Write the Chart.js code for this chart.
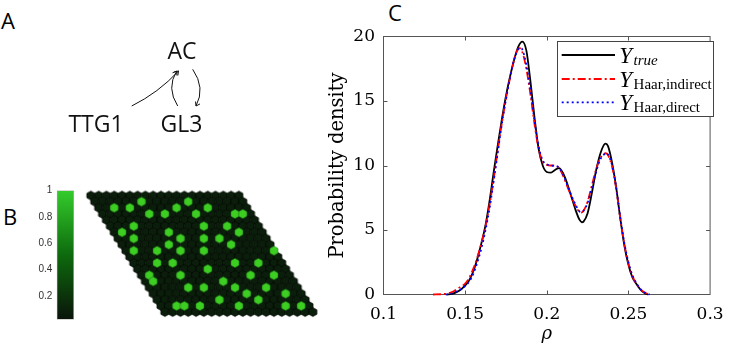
<!DOCTYPE html>
<html><head><meta charset="utf-8">
<script src="https://cdn.jsdelivr.net/npm/chart.js@4.4.1/dist/chart.umd.min.js"></script>
<style>
html,body{margin:0;padding:0;background:#fff;width:733px;height:354px;overflow:hidden;}
.box{position:absolute;}
.plabel{position:absolute;font-family:"Open Sans",sans-serif;font-size:22px;line-height:1;color:#000;}
</style></head><body>
<div class="plabel" style="left:1px;top:9px">A</div>
<div class="plabel" style="left:3px;top:205px">B</div>
<div class="plabel" style="left:388px;top:1px">C</div>
<div class="box" style="left:0;top:0;width:250px;height:170px"><canvas id="cA" width="250" height="170"></canvas></div>
<div class="box" style="left:0;top:180px;width:80px;height:150px"><canvas id="cBar" width="80" height="150"></canvas></div>
<div class="box" style="left:75px;top:180px;width:260px;height:150px"><canvas id="cLat" width="260" height="150"></canvas></div>
<div class="box" style="left:320px;top:0;width:413px;height:354px"><canvas id="cC" width="413" height="354"></canvas></div>
<script>
// ================= DATA =================
// Panel C: probability density of rho
const rhoTrue = [0.1386,0.142,0.145,0.148,0.150,0.1525,0.155,0.1575,0.160,0.1625,0.165,0.1675,0.170,0.1725,0.175,0.1775,0.180,0.1825,0.185,0.1875,0.190,0.1925,0.195,0.1975,0.200,0.2025,0.205,0.2075,0.210,0.2125,0.215,0.2175,0.220,0.2215,0.2225,0.225,0.2275,0.230,0.2325,0.235,0.236,0.2375,0.240,0.2425,0.245,0.2475,0.250,0.2525,0.255,0.2575,0.260,0.262];
const densTrue = [0,0.05,0.2,0.45,0.7,1.1,1.8,2.8,4.0,5.4,7.3,9.5,11.6,13.6,15.4,16.9,18.2,19.2,19.6,18.9,16.5,13.7,11.3,10.0,9.5,9.45,9.65,9.8,9.4,8.6,7.6,6.6,5.8,5.6,5.65,6.3,7.8,9.5,10.8,11.6,11.7,11.5,10.2,8.3,5.9,3.8,2.3,1.3,0.8,0.35,0.1,0];
const rhoIndirect = [0.1303,0.135,0.140,0.143,0.146,0.148,0.150,0.1525,0.155,0.1575,0.160,0.1625,0.165,0.1675,0.170,0.1725,0.175,0.1775,0.180,0.1825,0.1835,0.185,0.1875,0.190,0.1925,0.195,0.1975,0.200,0.2025,0.205,0.2075,0.210,0.2125,0.215,0.2175,0.220,0.221,0.2225,0.225,0.2275,0.230,0.2325,0.235,0.236,0.2375,0.240,0.2425,0.245,0.2475,0.250,0.2525,0.255,0.2575,0.260,0.263];
const densIndirect = [0,0.02,0.1,0.25,0.5,0.65,0.85,1.3,2.0,2.9,4.0,5.3,7.0,9.0,11.2,13.3,15.2,16.8,18.2,19.05,19.1,18.8,17.5,15.5,13.2,11.3,10.3,10.05,10.0,10.0,9.8,9.2,8.4,7.6,6.9,6.4,6.35,6.5,7.2,8.4,9.6,10.5,10.9,10.95,10.8,9.9,8.2,5.9,3.9,2.4,1.4,0.8,0.4,0.15,0];
const rhoDirect = [0.138,0.142,0.145,0.148,0.150,0.1525,0.155,0.1575,0.160,0.1625,0.165,0.1675,0.170,0.1725,0.175,0.1775,0.180,0.1825,0.184,0.185,0.1875,0.190,0.1925,0.195,0.1975,0.200,0.2025,0.205,0.2075,0.210,0.2125,0.215,0.2175,0.220,0.221,0.2225,0.225,0.2275,0.230,0.2325,0.235,0.2365,0.2375,0.240,0.2425,0.245,0.2475,0.250,0.2525,0.255,0.2575,0.260,0.263];
const densDirect = [0,0.08,0.25,0.45,0.65,1.0,1.6,2.5,3.6,5.0,6.7,8.8,11.0,13.2,15.1,16.8,18.2,19.0,19.1,19.0,17.8,15.8,13.4,11.5,10.4,10.1,10.0,9.95,9.85,9.3,8.5,7.7,7.0,6.45,6.4,6.5,7.1,8.2,9.4,10.4,10.85,10.95,10.85,10.0,8.3,6.0,4.0,2.5,1.5,0.85,0.4,0.15,0];
const xTickValues = [0.1,0.15,0.2,0.25,0.3];
const yTickValues = [0,5,10,15,20];
const legendSubscripts = ['true','Haar,indirect','Haar,direct'];
const legendSubItalic = [true,false,false];

// Panel A: regulatory network
const networkNodes = ['AC','TTG1','GL3'];
const networkEdges = [['TTG1','AC'],['GL3','AC'],['AC','GL3']];

// Panel B: hexagonal lattice state (col,row) of active cells, colorbar
const latticeCols = 20, latticeRows = 20;
const greenCells = [[6,1],[12,1],[2,2],[4,2],[10,2],[14,2],[6,3],[8,3],[12,3],[17,3],[18,3],
[3,5],[12,5],[15,5],[1,6],[7,6],[16,6],[2,7],[8,7],[11,7],[13,7],[6,8],[14,8],
[1,9],[4,9],[7,9],[10,9],[19,9],[3,11],[5,11],[13,11],[16,11],[9,12],
[1,13],[5,13],[14,13],[17,13],[1,14],[10,14],[5,15],[7,15],[11,15],[15,15],
[12,16],[17,16],[8,17],[13,17],[2,18],[3,18],[5,18],[10,18],[16,18],[18,18]];
const colorbarTicks = [0.2,0.4,0.6,0.8,1];
const colorbarRange = [0.02,1];

// ================= LAYOUT (not data) =================
const nodeLayout = {AC:[182,51], TTG1:[96,124], GL3:[181.5,124]};
const edgeLayout = [ // start, control, end
  [[131.7,106],[158.6,92.6],[178.5,71]],
  [[177.7,106],[166.2,88],[176.7,71]],
  [[192.7,69.3],[205.6,88],[196,106]]
];

// ================= PANEL A =================
const netPlugin = {
  id:'net',
  afterDraw(chart){
    const {ctx, scales:{x,y}} = chart;
    ctx.save();
    ctx.fillStyle='#111';
    ctx.font='23px "Open Sans", sans-serif';
    ctx.textAlign='center'; ctx.textBaseline='alphabetic';
    networkNodes.forEach(n=>{
      const p=nodeLayout[n];
      ctx.fillText(n, x.getPixelForValue(p[0]), y.getPixelForValue(p[1])+8.3);
    });
    ctx.strokeStyle='#111'; ctx.lineWidth=1;
    networkEdges.forEach((e,i)=>{
      const g=edgeLayout[i];
      const P=g.map(q=>[x.getPixelForValue(q[0]), y.getPixelForValue(q[1])]);
      ctx.beginPath(); ctx.moveTo(P[0][0],P[0][1]);
      ctx.quadraticCurveTo(P[1][0],P[1][1],P[2][0],P[2][1]); ctx.stroke();
      const ang=Math.atan2(P[2][1]-P[1][1],P[2][0]-P[1][0]);
      const L=4.5, s=0.6;
      ctx.beginPath();
      ctx.moveTo(P[2][0]-L*Math.cos(ang-s),P[2][1]-L*Math.sin(ang-s));
      ctx.lineTo(P[2][0],P[2][1]);
      ctx.lineTo(P[2][0]-L*Math.cos(ang+s),P[2][1]-L*Math.sin(ang+s));
      ctx.stroke();
    });
    ctx.restore();
  }
};
new Chart(document.getElementById('cA'),{
  type:'scatter',
  data:{datasets:[{data:networkNodes.map(n=>({x:nodeLayout[n][0],y:nodeLayout[n][1]})),pointRadius:0}]},
  options:{responsive:false,animation:false,events:[],
    layout:{padding:0},
    plugins:{legend:{display:false},tooltip:{enabled:false}},
    scales:{x:{type:'linear',min:0,max:250,display:false},y:{type:'linear',min:0,max:170,reverse:true,display:false}}},
  plugins:[netPlugin]
});

// ================= PANEL B: colorbar =================
const cmapStops = [[0,'#0a140a'],[0.5,'#0d6a0d'],[1,'#34cc2c']];
new Chart(document.getElementById('cBar'),{
  type:'bar',
  data:{labels:[''],datasets:[{data:[colorbarRange],
    backgroundColor:(c)=>{const a=c.chart.chartArea; if(!a) return '#000';
      const g=c.chart.ctx.createLinearGradient(0,a.bottom,0,a.top);
      cmapStops.forEach(s=>g.addColorStop(s[0],s[1])); return g;},
    borderColor:'#b0b0b0',borderWidth:1,borderSkipped:false,barPercentage:1,categoryPercentage:1}]},
  options:{responsive:false,animation:false,events:[],
    layout:{padding:{left:0,right:6,top:8.3,bottom:8.3}},
    plugins:{legend:{display:false},tooltip:{enabled:false}},
    scales:{
      x:{display:false},
      y:{min:colorbarRange[0],max:colorbarRange[1],
        afterFit(s){s.width=56.7;},
        afterBuildTicks(s){s.ticks=colorbarTicks.map(v=>({value:v}));},
        grid:{display:false,drawTicks:false},border:{display:false},
        ticks:{padding:4.4,color:'#333',font:{family:'"Liberation Sans", Arial, sans-serif',size:10},
          callback:(v)=>String(v)}}
    }}
});

// ================= PANEL B: lattice =================
function hexImage(fill,hw,h,stroke,lw){
  const c=document.createElement('canvas'); c.width=14; c.height=14;
  const g=c.getContext('2d'); const cx=7, cy=7;
  g.beginPath();
  g.moveTo(cx,cy-h); g.lineTo(cx+hw,cy-h/2); g.lineTo(cx+hw,cy+h/2);
  g.lineTo(cx,cy+h); g.lineTo(cx-hw,cy+h/2); g.lineTo(cx-hw,cy-h/2); g.closePath();
  g.fillStyle=fill; g.fill(); g.strokeStyle=stroke; g.lineWidth=lw; g.stroke();
  return c;
}
const hexDark=hexImage('#0b1d0b',4.08,4.44,'#020602',0.6);
const hexGreen=hexImage('#3ccf22',4.0,4.6,'#1f7a14',0.6);
const activeSet=new Set(greenCells.map(p=>p[0]+','+p[1]));
const allCells=[];
for(let r=0;r<latticeRows;r++) for(let c=0;c<latticeCols;c++) allCells.push([c,r]);
const toPt=(p)=>({x:p[0]+0.5*p[1],y:p[1]});
new Chart(document.getElementById('cLat'),{
  type:'scatter',
  data:{datasets:[
    {data:greenCells.map(toPt),pointStyle:hexGreen,pointRadius:5},
    {data:allCells.filter(p=>!activeSet.has(p[0]+','+p[1])).map(toPt),pointStyle:hexDark,pointRadius:5}
  ]},
  options:{responsive:false,animation:false,events:[],
    layout:{padding:0},
    plugins:{legend:{display:false},tooltip:{enabled:false}},
    scales:{x:{type:'linear',min:-1.265,max:30.571,display:false},
            y:{type:'linear',min:-1.55,max:20.95,reverse:true,display:false}}}
});

// ================= PANEL C =================
const zip=(a,b)=>a.map((v,i)=>({x:v,y:b[i]}));
const seriesStyles=[
  {color:'#000000',dash:[],width:1.8},
  {color:'#ff0000',dash:[8,3,2,3],width:1.8},
  {color:'#0000ff',dash:[2,3],width:1.7}
];
const framePlugin={
  id:'frame',
  beforeDatasetsDraw(chart){
    const {ctx,chartArea:a,scales:{x,y}}=chart;
    ctx.save(); ctx.strokeStyle='#555'; ctx.lineWidth=1;
    ctx.strokeRect(a.left,a.top,a.right-a.left,a.bottom-a.top);
    ctx.beginPath();
    xTickValues.slice(1,-1).forEach(v=>{const px=Math.round(x.getPixelForValue(v))+0.5;
      ctx.moveTo(px,a.bottom); ctx.lineTo(px,a.bottom-4); ctx.moveTo(px,a.top); ctx.lineTo(px,a.top+4);});
    yTickValues.slice(1,-1).forEach(v=>{const py=Math.round(y.getPixelForValue(v))+0.5;
      ctx.moveTo(a.left,py); ctx.lineTo(a.left+4,py); ctx.moveTo(a.right,py); ctx.lineTo(a.right-4,py);});
    ctx.stroke(); ctx.restore();
  },
  afterDraw(chart){
    const {ctx}=chart;
    ctx.save();
    ctx.fillStyle='#fff'; ctx.strokeStyle='#444'; ctx.lineWidth=1;
    ctx.fillRect(237.5,41.5,156,75); ctx.strokeRect(237.5,41.5,156,75);
    const rows=[55,79,102.3];
    rows.forEach((ry,i)=>{
      const st=seriesStyles[i];
      ctx.strokeStyle=st.color; ctx.lineWidth=st.width; ctx.setLineDash(st.dash);
      ctx.beginPath(); ctx.moveTo(241.7,ry); ctx.lineTo(295,ry); ctx.stroke();
      ctx.setLineDash([]);
      ctx.fillStyle='#000'; ctx.textAlign='left'; ctx.textBaseline='alphabetic';
      ctx.font='italic 23px "Liberation Serif", serif';
      ctx.fillText('Y',299.3,ry+7.5);
      const w=ctx.measureText('Y').width;
      ctx.font=(legendSubItalic[i]?'italic ':'')+'15px "Liberation Serif", serif';
      ctx.fillText(legendSubscripts[i],299.3+w+1.5,ry+9.5);
    });
    ctx.restore();
  }
};
new Chart(document.getElementById('cC'),{
  type:'line',
  data:{datasets:[
    {data:zip(rhoTrue,densTrue),order:2},
    {data:zip(rhoIndirect,densIndirect),order:1},
    {data:zip(rhoDirect,densDirect),order:0}
  ].map((d,i)=>Object.assign(d,{borderColor:seriesStyles[i].color,borderWidth:seriesStyles[i].width,
      borderDash:seriesStyles[i].dash,pointRadius:0,fill:false,cubicInterpolationMode:'monotone',clip:false,borderCapStyle:'butt'}))},
  options:{responsive:false,animation:false,events:[],
    layout:{padding:{left:0,right:13.5,top:36.5,bottom:0}},
    plugins:{legend:{display:false},tooltip:{enabled:false}},
    scales:{
      x:{type:'linear',min:0.1,max:0.3,
        afterFit(s){s.height=59.5;},
        afterBuildTicks(s){s.ticks=xTickValues.map(v=>({value:v}));},
        grid:{display:false,drawTicks:false},border:{display:false},
        ticks:{padding:9.4,color:'#000',maxRotation:0,autoSkip:false,font:{family:'"DejaVu Serif", serif',size:17},
          callback:(v)=>String(parseFloat(Number(v).toFixed(3)))},
        title:{display:true,text:'ρ',color:'#000',font:{family:'"DejaVu Serif", serif',size:18,style:'italic'},padding:{top:0,bottom:9.2}}},
      y:{type:'linear',min:0,max:20,
        afterFit(s){s.width=63.5;},
        afterBuildTicks(s){s.ticks=yTickValues.map(v=>({value:v}));},
        grid:{display:false,drawTicks:false},border:{display:false},
        ticks:{padding:8.5,color:'#000',font:{family:'"DejaVu Serif", serif',size:17}},
        title:{display:true,text:'Probability density',color:'#000',font:{family:'"DejaVu Serif", serif',size:19.5},padding:{top:6,bottom:0}}}
    }},
  plugins:[framePlugin]
});
</script>
</body></html>
